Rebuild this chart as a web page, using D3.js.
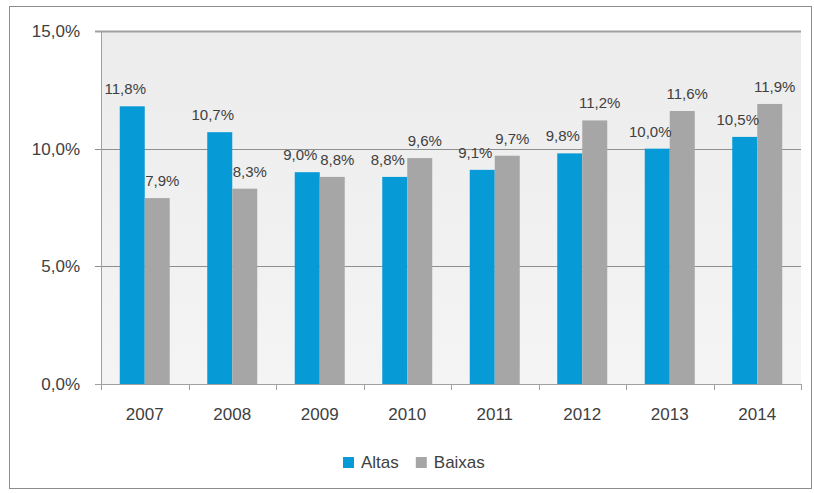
<!DOCTYPE html>
<html>
    <head>
        <script src="https://d3js.org/d3.v7.min.js"></script>
        <style>
            body { margin: 0; background: #fff; }
            text { font-family: "Liberation Sans", Arial, sans-serif; fill: #404040; }
        </style>
    </head>
    <body>
        <svg width="814" height="493"></svg>

        <script>
            "use strict";

            var years = ["2007", "2008", "2009", "2010", "2011", "2012", "2013", "2014"];
            var altas = [11.8, 10.7, 9.0, 8.8, 9.1, 9.8, 10.0, 10.5];
            var baixas = [7.9, 8.3, 8.8, 9.6, 9.7, 11.2, 11.6, 11.9];
            var seriesNames = ["Altas", "Baixas"];
            var yTicks = [0, 5, 10, 15];

            var colors = { Altas: "#069ad6", Baixas: "#a6a6a6" };
            var labelNudge = { Altas: -7, Baixas: 5 };

            var svg = d3.select("svg");

            // chart frame
            svg.append("rect")
                .attr("x", 9.5).attr("y", 6.5)
                .attr("width", 802).attr("height", 482)
                .attr("fill", "#fff")
                .attr("stroke", "#8c8c8c");

            var margin = { left: 101, right: 801, top: 31, bottom: 384 };

            var x = d3.scaleBand().domain(years).range([margin.left, margin.right]);
            var x1 = d3.scaleBand().domain(seriesNames).range([0, 50]);
            var y = d3.scaleLinear().domain([0, 15]).range([margin.bottom, margin.top]);

            // plot area
            var grad = svg.append("defs").append("linearGradient")
                .attr("id", "bg").attr("x1", 0).attr("y1", 0).attr("x2", 0).attr("y2", 1);
            grad.append("stop").attr("offset", 0).attr("stop-color", "#ececec");
            grad.append("stop").attr("offset", 1).attr("stop-color", "#f4f4f4");

            svg.append("rect")
                .attr("x", margin.left).attr("y", margin.top)
                .attr("width", margin.right - margin.left)
                .attr("height", margin.bottom - margin.top)
                .attr("fill", "url(#bg)");

            // gridlines
            svg.append("g").selectAll("line")
                .data(yTicks.filter(d => d > 0))
                .enter().append("line")
                .attr("x1", margin.left - 6).attr("x2", margin.right)
                .attr("y1", d => Math.round(y(d)) + 0.5).attr("y2", d => Math.round(y(d)) + 0.5)
                .attr("stroke", d => d === 15 ? "#a0a0a0" : "#8f8f8f")
                .attr("stroke-width", d => d === 15 ? 2 : 1.2);

            // y axis labels
            svg.append("g").selectAll("text")
                .data(yTicks)
                .enter().append("text")
                .attr("x", 80)
                .attr("y", d => y(d))
                .attr("dy", "0.36em")
                .attr("text-anchor", "end")
                .style("font-size", "17px")
                .text(d => d3.format(".1f")(d).replace(".", ",") + "%");

            // bars
            var groups = svg.append("g").selectAll("g")
                .data(years)
                .enter().append("g")
                .attr("transform", d => "translate(" + (x(d) + (x.bandwidth() - 50) / 2) + ",0)");

            var rows = (d, i) => [
                { key: "Altas", value: altas[i] },
                { key: "Baixas", value: baixas[i] }
            ];

            groups.selectAll("rect")
                .data(rows)
                .enter().append("rect")
                .attr("x", d => x1(d.key))
                .attr("width", x1.bandwidth())
                .attr("y", d => y(d.value))
                .attr("height", d => y(0) - y(d.value))
                .attr("fill", d => colors[d.key]);

            groups.selectAll("text")
                .data(rows)
                .enter().append("text")
                .attr("x", d => x1(d.key) + x1.bandwidth() / 2 + labelNudge[d.key])
                .attr("y", d => y(d.value) - 12)
                .attr("text-anchor", "middle")
                .style("font-size", "15px")
                .text(d => d3.format(".1f")(d.value).replace(".", ",") + "%");

            // axes lines
            svg.append("line")
                .attr("x1", margin.left + 0.5).attr("x2", margin.left + 0.5)
                .attr("y1", margin.top).attr("y2", margin.bottom)
                .attr("stroke", "#a0a0a0");

            svg.append("line")
                .attr("x1", margin.left - 6).attr("x2", margin.right)
                .attr("y1", margin.bottom + 0.5).attr("y2", margin.bottom + 0.5)
                .attr("stroke", "#a0a0a0");

            var tickX = years.map(d => x(d)).concat([margin.right]);
            svg.append("g").selectAll("line")
                .data(tickX)
                .enter().append("line")
                .attr("x1", d => Math.round(d) + 0.5).attr("x2", d => Math.round(d) + 0.5)
                .attr("y1", margin.bottom).attr("y2", margin.bottom + 6)
                .attr("stroke", "#a0a0a0");

            svg.append("g").selectAll("text")
                .data(years)
                .enter().append("text")
                .attr("x", d => x(d) + x.bandwidth() / 2)
                .attr("y", 420)
                .attr("text-anchor", "middle")
                .style("font-size", "17px")
                .text(d => d);

            // legend
            var lx = 343;
            seriesNames.forEach(name => {
                svg.append("rect")
                    .attr("x", lx).attr("y", 457)
                    .attr("width", 11).attr("height", 11)
                    .attr("fill", colors[name]);
                var t = svg.append("text")
                    .attr("x", lx + 18).attr("y", 468)
                    .style("font-size", "17px")
                    .text(name);
                lx += 18 + t.node().getComputedTextLength() + 17;
            });
        </script>
    </body>
</html>
